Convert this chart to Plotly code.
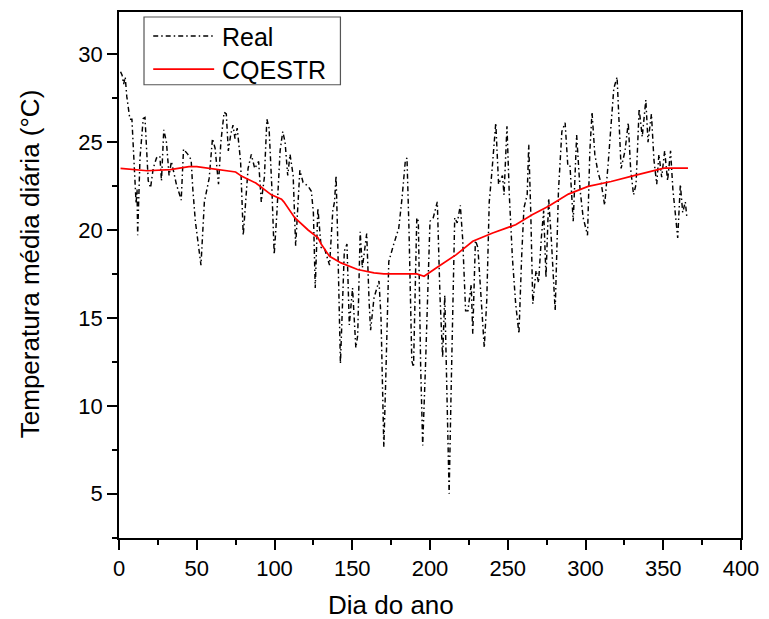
import plotly.graph_objects as go

# ---- data ----
real_day = [1, 2, 3, 4, 5, 6, 7, 8.3, 10.4, 11, 11.6, 12.0, 13.5, 15.6, 16.7, 18.8, 20.3, 22, 24.1, 26.3,
            27.3, 28.8, 30.5, 32.2, 33.7, 35.5, 36.9, 39, 40, 41.5, 44.3, 46.4, 47.4, 49.1, 50, 51.2,
            52.7, 54.9, 58, 60.1, 61.8, 64, 65.5, 67.6, 69, 70.3, 71.8, 73.3, 74.6, 76, 78.2, 79.9,
            81.3, 83, 85.1, 87.3, 89.8, 91.5, 93.5, 95.1, 96.5, 98.3, 99.8, 101.5, 103.6, 105.3, 106.8,
            108.5, 110, 112, 113.6, 115, 116.3, 118.4, 121.6, 123.7, 125, 126.2, 127.9, 130, 132.3,
            135.4, 137.5, 138.6, 139.6, 140.5, 141.7, 142.4, 143.2, 144.9, 146.6, 148.1, 150.2, 152.3,
            153.5, 155.1, 156.5, 159.3, 160.8, 161.8, 164, 167.2, 168.5, 170.3, 171.4, 173.5, 176.7,
            179.9, 182, 184.1, 185.2, 186.5, 188.3, 189.4, 191.5, 192.5, 194, 195.3, 197, 200, 202.1,
            204.7, 206.4, 208.1, 209.5, 211, 212.3, 213.5, 214.8, 215.9, 217.5, 219.5, 221, 222.9,
            224.4, 226.5, 227.5, 229.2, 230.8, 232.8, 234.9, 236.5, 238.1, 239.8, 241, 242.3, 244.1,
            246.6, 247.6, 248.7, 249.5, 251, 253, 255.1, 257.2, 258.9, 260.4, 262.5, 263.5, 264.8,
            266.1, 268.2, 269.8, 271.6, 273.1, 274.6, 276.3, 278, 280.5, 282.6, 284.8, 286.9, 288.6,
            290, 292.1, 294.3, 296.5, 298.5, 301.3, 302.8, 304.2, 306, 308, 310.2, 312.3, 314.5, 316.5,
            318.2, 320.3, 321.8, 322.9, 325.4, 327.5, 329, 330.9, 332.5, 334.5, 336.5, 338.8, 340.2,
            342.4, 344, 345.8, 347.2, 349, 350.9, 352.8, 354.7, 356.2, 357.8, 359.3, 361, 362.5,
            364.2, 365.2]
real_temp = [29.0, 28.8, 28.3, 28.7, 27.6, 27.0, 26.3, 26.3, 22.8, 21.5, 22.3, 19.7, 24.1, 26.35, 26.4,
             22.8, 22.4, 23.5, 24.1, 24.2, 22.8, 25.7, 25.0, 23.1, 23.9, 23.2, 22.6, 22.0, 21.7, 24.6,
             24.3, 24.0, 22.4, 20.5, 19.9, 19.0, 18.0, 21.6, 22.95, 25.2, 24.65, 22.6, 25.0, 26.7, 26.6,
             24.5, 25.4, 25.97, 25.2, 25.8, 23.9, 19.7, 21.6, 23.5, 24.3, 23.5, 23.9, 21.6, 23.0, 26.3,
             25.8, 22.4, 18.6, 20.9, 24.5, 25.6, 25.0, 23.1, 24.3, 23.1, 19.1, 21.5, 23.4, 22.7, 22.5,
             22.2, 21.0, 16.7, 21.25, 19.0, 18.9, 18.0, 21.1, 21.6, 23.1, 20.0, 14.1, 12.4, 14.45, 18.8,
             19.2, 14.6, 16.7, 13.3, 14.0, 19.9, 17.85, 19.8, 16.0, 14.3, 16.15, 17.1, 15.0, 7.65, 11.05,
             18.2, 19.2, 20.1, 21.8, 23.9, 24.1, 20.0, 12.55, 12.2, 20.7, 20.5, 12.2, 7.74, 12.0, 20.5,
             20.7, 21.6, 16.3, 12.75, 16.3, 11.0, 5.0, 10.5, 16.0, 20.7, 20.4, 21.4, 19.5, 15.4, 15.4,
             16.9, 14.1, 19.4, 19.0, 16.3, 13.3, 16.0, 21.6, 23.3, 24.5, 26.1, 22.6, 23.1, 22.0, 24.85,
             25.9, 22.0, 18.4, 15.8, 14.1, 18.4, 21.25, 22.0, 24.85, 21.0, 15.8, 17.7, 17.0, 19.55, 21.1,
             17.3, 21.8, 19.5, 15.4, 22.2, 25.6, 26.1, 23.7, 23.7, 20.5, 25.4, 22.3, 20.7, 19.7, 24.5,
             26.7, 24.3, 23.3, 22.6, 21.4, 23.7, 26.2, 28.05, 28.7, 25.4, 23.5, 24.5, 26.1, 23.5, 22.0,
             22.6, 26.9, 25.3, 27.4, 25.0, 26.6, 24.0, 22.6, 24.3, 23.0, 24.5, 22.8, 24.5, 22.3, 20.9,
             19.55, 22.6, 21.0, 21.6, 20.7]

cq_day = [1, 10, 18, 33, 45, 50, 58, 75, 79, 88, 98, 104.5, 106, 113, 121.6, 128, 130, 135.4, 142.8,
          153.4, 164, 170.3, 191.5, 196.2, 204.2, 216.9, 227.5, 240.3, 255.1, 258.2, 265.7, 276.2,
          289, 301.7, 316.5, 329.2, 341.9, 350.4, 356.8, 365.9]
cq_temp = [23.5, 23.45, 23.37, 23.43, 23.6, 23.6, 23.5, 23.3, 23.05, 22.67, 22.0, 21.75, 21.6, 20.7,
           20.0, 19.55, 19.2, 18.5, 18.13, 17.75, 17.56, 17.5, 17.5, 17.37, 17.85, 18.6, 19.36, 19.83,
           20.3, 20.46, 20.87, 21.35, 22.04, 22.48, 22.76, 23.05, 23.33, 23.52, 23.52, 23.52]

x_ticks = [0, 50, 100, 150, 200, 250, 300, 350, 400]
x_minor = [25, 75, 125, 175, 225, 275, 325, 375]
y_ticks = [5, 10, 15, 20, 25, 30]
y_minor = [2.5, 7.5, 12.5, 17.5, 22.5, 27.5, 32.5]

FONT = "Liberation Sans, Arial, sans-serif"
REAL_DASH = "5px,3px,1.5px,3px"

fig = go.Figure()
fig.add_trace(go.Scatter(x=real_day, y=real_temp, mode="lines", name="Real",
                         line=dict(color="black", width=1.45, dash=REAL_DASH)))
fig.add_trace(go.Scatter(x=cq_day, y=cq_temp, mode="lines", name="CQESTR",
                         line=dict(color="#ff0000", width=1.7)))

axis_common = dict(showline=True, linecolor="black", linewidth=1.5, mirror=True,
                   ticks="outside", ticklen=10, tickwidth=1.5, tickcolor="black",
                   showgrid=False, zeroline=False,
                   tickfont=dict(family=FONT, size=22, color="black"))

fig.update_xaxes(range=[0, 400], tickmode="array", tickvals=x_ticks,
                 minor=dict(tickmode="array", tickvals=x_minor, ticks="outside",
                            ticklen=5, tickwidth=1.5, tickcolor="black", showgrid=False),
                 **axis_common)
fig.update_yaxes(range=[2.48, 32.4], tickmode="array", tickvals=y_ticks,
                 minor=dict(tickmode="array", tickvals=y_minor, ticks="outside",
                            ticklen=5, tickwidth=1.5, tickcolor="black", showgrid=False),
                 **axis_common)

# custom legend (box, sample lines, labels) in paper coordinates
shapes = [
    dict(type="rect", xref="paper", yref="paper", x0=0.0402, x1=0.356, y0=0.8617, y1=0.9905,
         line=dict(color="#555555", width=1.2), fillcolor="white", layer="above"),
    dict(type="line", xref="paper", yref="paper", x0=0.055, x1=0.153, y0=0.9545, y1=0.9545,
         line=dict(color="black", width=1.45, dash=REAL_DASH), layer="above"),
    dict(type="line", xref="paper", yref="paper", x0=0.055, x1=0.153, y0=0.8914, y1=0.8914,
         line=dict(color="#ff0000", width=1.7), layer="above"),
]
annotations = [
    dict(text="Real", xref="paper", yref="paper", x=0.163, y=0.9530, xanchor="left",
         yanchor="middle", showarrow=False, font=dict(family=FONT, size=25, color="black")),
    dict(text="CQESTR", xref="paper", yref="paper", x=0.163, y=0.8900, xanchor="left",
         yanchor="middle", showarrow=False, font=dict(family=FONT, size=25, color="black")),
    dict(text="Dia do ano", xref="paper", yref="paper", x=0.4367, y=-0.128, xanchor="center",
         yanchor="middle", showarrow=False, font=dict(family=FONT, size=26, color="black")),
    dict(text="Temperatura média diária (°C)", xref="paper", yref="paper", x=-0.143, y=0.5206,
         xanchor="center", yanchor="middle", textangle=-90, showarrow=False,
         font=dict(family=FONT, size=26, color="black")),
]

fig.update_layout(width=769, height=619, margin=dict(l=118.7, r=21, t=10, b=81.3),
                  paper_bgcolor="white", plot_bgcolor="white", showlegend=False,
                  shapes=shapes, annotations=annotations,
                  font=dict(family=FONT, color="black"))

fig.write_html("out.html")
